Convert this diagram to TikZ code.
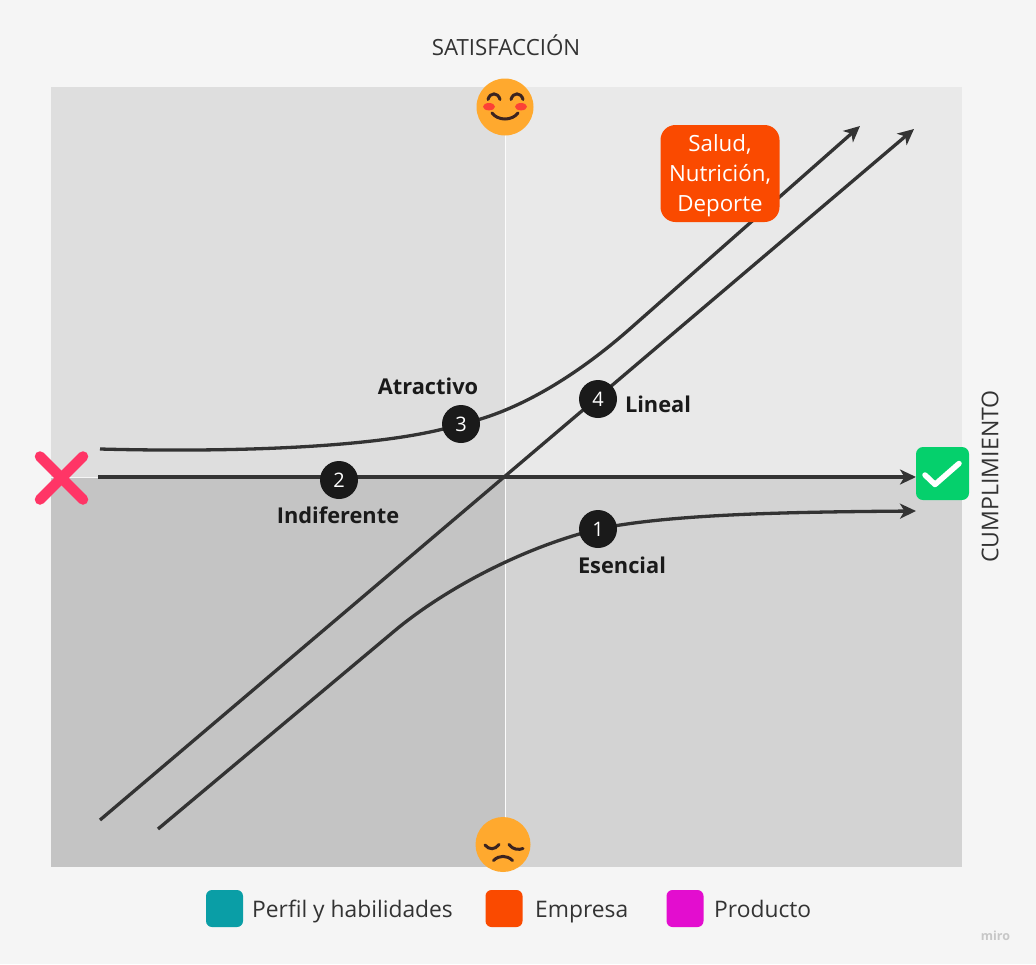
\documentclass[tikz,border=0pt]{standalone}
\usepackage{fontspec}
\setmainfont{Open Sans}
\usepackage{tikz}
\usetikzlibrary{positioning, calc, fit, arrows.meta}

\definecolor{pagebg}{HTML}{F5F5F5}
\definecolor{quadTL}{HTML}{DEDEDE}
\definecolor{quadTR}{HTML}{E9E9E9}
\definecolor{quadBL}{HTML}{C4C4C4}
\definecolor{quadBR}{HTML}{D3D3D3}
\definecolor{curveink}{HTML}{333333}
\definecolor{badgeink}{HTML}{1A1A1A}
\definecolor{faceorange}{HTML}{FFA92E}
\definecolor{facedark}{HTML}{3B2420}
\definecolor{cheekred}{HTML}{FC4136}
\definecolor{crossred}{HTML}{FF3566}
\definecolor{checkgreen}{HTML}{05D06C}
\definecolor{tealkey}{HTML}{0A9EA6}
\definecolor{orangekey}{HTML}{FA4A00}
\definecolor{magentakey}{HTML}{E30DCF}

\tikzset{
  curveline/.style={draw=curveink, line width=3.3pt, -{Stealth[length=16pt,width=15pt,inset=4.5pt]}},
  badge/.style={circle, fill=badgeink, text=white, minimum size=38pt, inner sep=0pt, font=\fontsize{20}{24}\selectfont},
  kindlabel/.style={text=badgeink, font=\fontsize{21.8}{26}\selectfont\bfseries, inner sep=0pt},
  axislabel/.style={text=curveink, font=\fontsize{22.3}{27}\selectfont, inner sep=0pt},
  keybox/.style={rounded corners=6pt, minimum size=37pt, inner sep=0pt},
  keylabel/.style={text=curveink, font=\fontsize{22.8}{28}\selectfont, inner sep=0pt, anchor=base west},
  facelines/.style={draw=facedark, line width=3pt, line cap=round},
}

\begin{document}
\begin{tikzpicture}[x=1pt, y=-1pt]
\fill[pagebg] (0,0) rectangle (1036,964);
\useasboundingbox (0,0) rectangle (1036,964);

\fill[quadTL] (51,87) rectangle (505,477);
\fill[quadTR] (505,87) rectangle (962,477);
\fill[quadBL] (51,477) rectangle (505,867);
\fill[quadBR] (505,477) rectangle (962,867);
\draw[white!85!quadTR, line width=1pt] (505.5,87) -- (505.5,867);
\draw[white!60!quadTR, line width=1pt] (51,477) -- (962,477);

\node[axislabel] (satisfaccion) at (506,45) {SATISFACCIÓN};
\node[axislabel, font=\fontsize{23.1}{27}\selectfont, rotate=90] (cumplimiento) at (990,476.5) {CUMPLIMIENTO};

\coordinate (esencialStart) at (158,829);
\coordinate (esencialBend) at (392,633);
\coordinate (esencialMid) at (598,529);
\coordinate (esencialEnd) at (916,511);
\coordinate (indiferenteStart) at (98,477);
\coordinate (indiferenteEnd) at (916,477);
\coordinate (atractivoStart) at (100,449);
\coordinate (atractivoMid) at (461,424);
\coordinate (atractivoBend) at (632,327);
\coordinate (atractivoEnd) at (860,126);
\coordinate (linealStart) at (100,820);
\coordinate (linealEnd) at (914,129);

\draw[curveline] (esencialStart) -- (esencialBend) .. controls (440,592) and (520,548) .. (esencialMid) .. controls (670,514) and (790,512) .. (esencialEnd);
\draw[curveline] (indiferenteStart) -- (indiferenteEnd);
\draw[curveline] (atractivoStart) .. controls (210,452) and (380,450) .. (atractivoMid) .. controls (510,414) and (570,382) .. (atractivoBend) -- (atractivoEnd);
\draw[curveline] (linealStart) -- (linealEnd);

\node[badge] (badgeEsencial) at (esencialMid) {1};
\node[badge] (badgeIndiferente) at (339,480) {2};
\node[badge] (badgeAtractivo) at (atractivoMid) {3};
\node[badge] (badgeLineal) at (598,399) {4};

\node[kindlabel] (esencial) at (622,565) {Esencial};
\node[kindlabel] (indiferente) at (338,515) {Indiferente};
\node[kindlabel] (atractivo) at (428,386) {Atractivo};
\node[kindlabel] (lineal) at (658,404) {Lineal};

\node[fill=orangekey, rounded corners=15pt, minimum width=119pt, minimum height=97pt, inner sep=0pt, text=white, align=center, font=\fontsize{22.3}{30}\selectfont] (salud) at (720,173.5) {\rule{0pt}{21pt}Salud,\\Nutrición,\\Deporte};

\node[circle, fill=faceorange, minimum size=57pt, inner sep=0pt] (smile) at (505,107) {};
\fill[cheekred] (489,106.7) ellipse (6pt and 3.7pt);
\fill[cheekred] (521,106.7) ellipse (6pt and 3.7pt);
\draw[facelines] (488,99.5) .. controls (490,92) and (498,92) .. (500,99.5);
\draw[facelines] (511,99.5) .. controls (513,92) and (521,92) .. (523,99.5);
\draw[facelines] (492,113) .. controls (498,121) and (512,121) .. (518,113);

\node[circle, fill=faceorange, minimum size=55pt, inner sep=0pt] (frown) at (503,844.5) {};
\draw[facelines] (485,845) .. controls (489,850) and (495,850) .. (499,844.5);
\draw[facelines] (509,844.5) .. controls (513,850) and (519,850) .. (523,848.5);
\draw[facelines] (493.5,860.5) .. controls (499,855) and (507,855) .. (512.5,860.5);

\draw[crossred, line width=10.5pt, line cap=round] (40,456.5) -- (83,499.5);
\draw[crossred, line width=10.5pt, line cap=round] (83,456.5) -- (40,499.5);

\node[fill=checkgreen, rounded corners=7pt, minimum size=53pt, inner sep=0pt] (check) at (942.5,473.5) {};
\draw[white, line width=5.5pt, line cap=round, line join=round] (925,475) -- (935,484.5) -- (959,463.5);

\node[keybox, fill=tealkey] (perfilKey) at (224.5,908.5) {};
\node[keybox, fill=orangekey] (empresaKey) at (504,908.5) {};
\node[keybox, fill=magentakey] (productoKey) at (685,908.5) {};
\node[keylabel] (perfil) at (252,917) {Perfil y habilidades};
\node[keylabel] (empresa) at (535,917) {Empresa};
\node[keylabel] (producto) at (714,917) {Producto};

\node[text=black!22, inner sep=0pt, font=\fontsize{12.5}{14}\selectfont\bfseries] (miro) at (995.5,936) {miro};
\end{tikzpicture}
\end{document}
